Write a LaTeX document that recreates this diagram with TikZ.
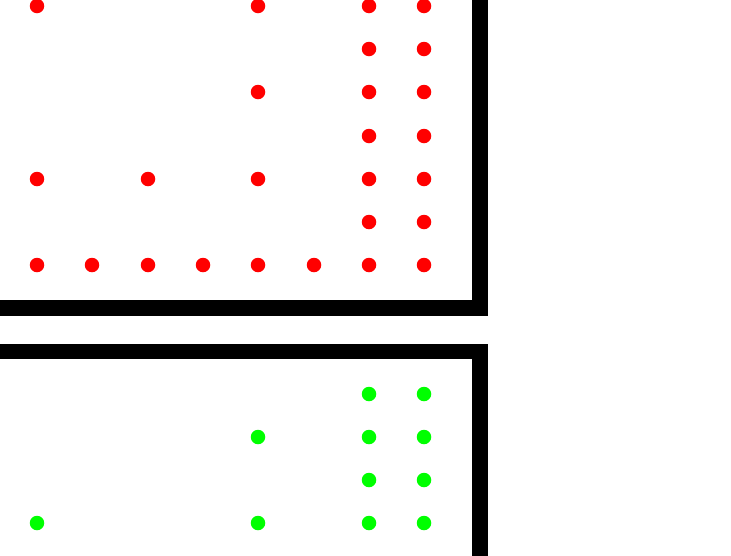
\documentclass[tikz,border=0pt]{standalone}
\begin{document}
\begin{tikzpicture}[x=1pt,y=-1pt,
  wall/.style={line width=15.5pt,line join=miter,line cap=butt},
  reddot/.style={circle,fill=red,inner sep=0pt,minimum size=14.5pt},
  greendot/.style={circle,fill=green,inner sep=0pt,minimum size=14.5pt}]
\useasboundingbox (0,0) rectangle (731,555);
\draw[wall] (0,308) -- (480,308) -- (480,-10);
\draw[wall] (0,351.5) -- (480,351.5) -- (480,565);
% red dots
\foreach \x/\y [count=\i] in {37/6,258/6,369/6,424/6,
  369/49,424/49,
  258/92,369/92,424/92,
  369/136,424/136,
  37/179,148/179,258/179,369/179,424/179,
  369/222,424/222,
  37/265,92/265,148/265,203/265,258/265,314/265,369/265,424/265}
  \node[reddot] (r\i) at (\x,\y) {};
% green dots
\foreach \x/\y [count=\i] in {369/394,424/394,
  258/437,369/437,424/437,
  369/480,424/480,
  37/523,258/523,369/523,424/523}
  \node[greendot] (g\i) at (\x,\y) {};
\end{tikzpicture}
\end{document}
